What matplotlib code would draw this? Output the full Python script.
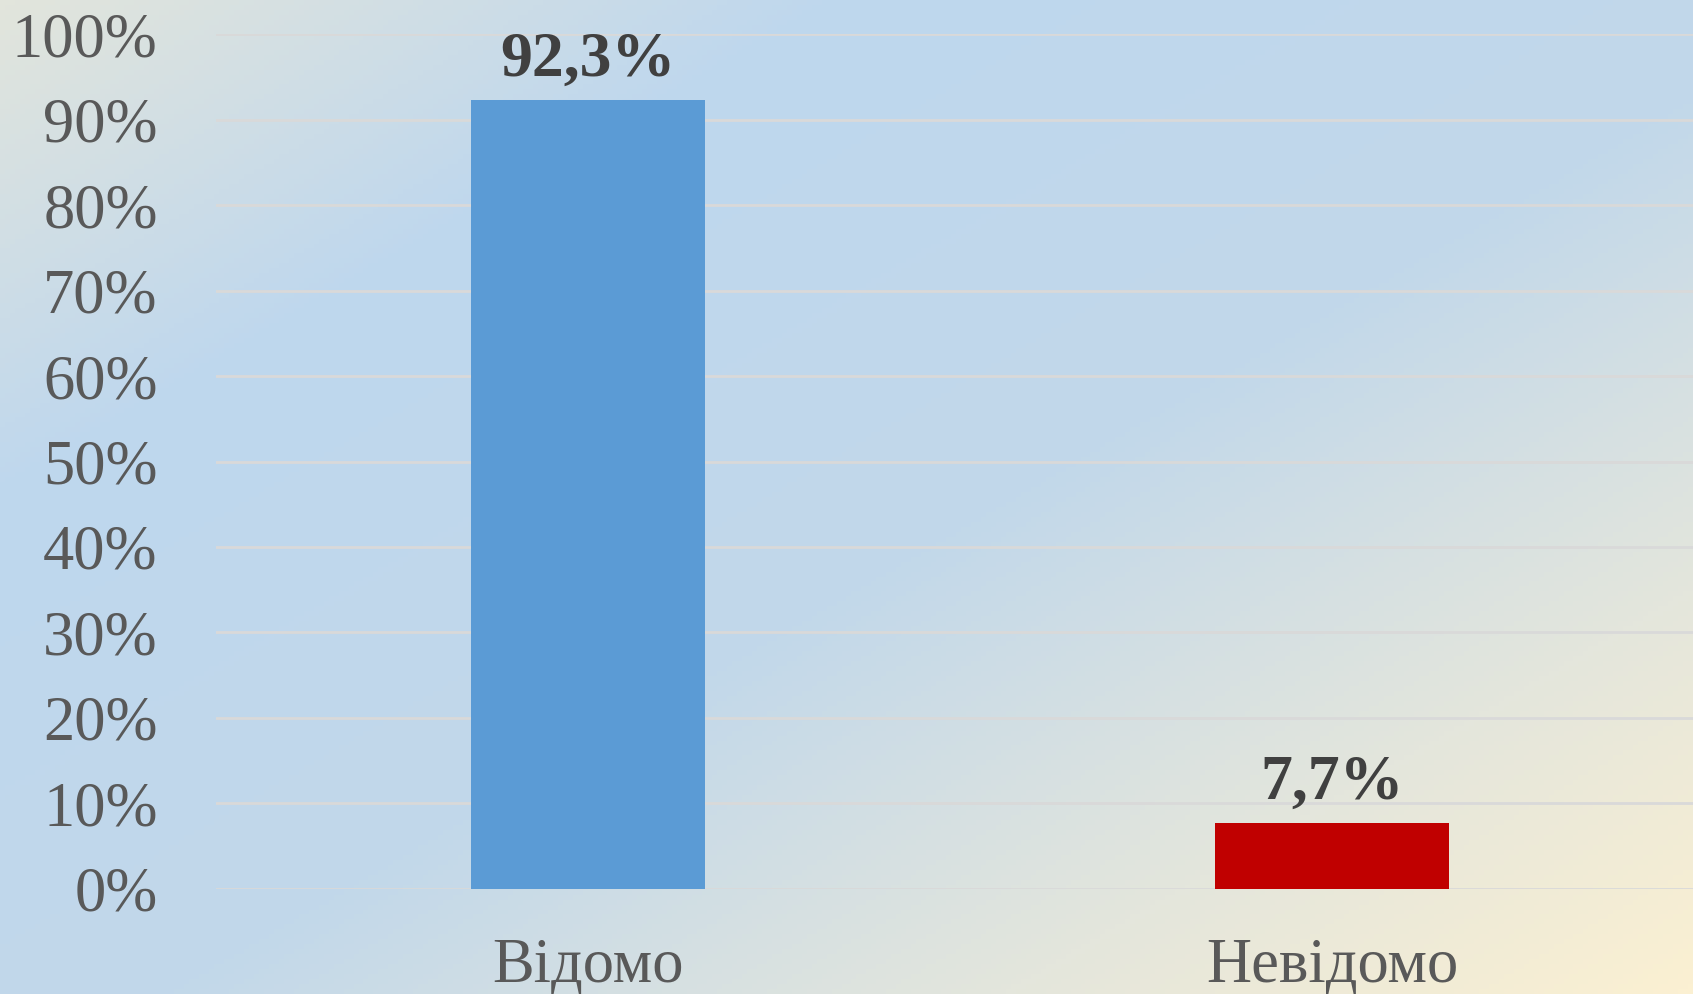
import numpy as np
import matplotlib.pyplot as plt
from matplotlib.colors import LinearSegmentedColormap

categories = ['Відомо', 'Невідомо']
values = [92.3, 7.7]
labels = ['92,3%', '7,7%']
colors = ['#5b9bd5', '#c00000']
yticks = list(range(0, 101, 10))

plt.rcParams['font.family'] = ['Liberation Serif', 'DejaVu Serif']

fig = plt.figure(figsize=(16.93, 9.94), dpi=100)

# diagonal gradient background
bg = fig.add_axes([0, 0, 1, 1], zorder=0)
h, w = 200, 340
yy, xx = np.mgrid[0:h, 0:w]
t = (xx / (w - 1) + yy / (h - 1)) / 2
cmap = LinearSegmentedColormap.from_list('bg', [
    (0.0, '#e2e5dc'), (0.25, '#bed7ee'), (0.55, '#c2d8ea'),
    (0.8, '#e4e6dc'), (1.0, '#fbf0d2')])
bg.imshow(t, cmap=cmap, aspect='auto', extent=[0, 1, 0, 1], origin='upper')
bg.axis('off')

ax = fig.add_axes([216 / 1693, 1 - 888.6 / 994, 1 - 216 / 1693, (888.6 - 34.5) / 994], zorder=1)
ax.patch.set_alpha(0)
x = np.arange(len(categories))
ax.bar(x, values, width=0.315, color=colors, zorder=3)
for xi, v, lab in zip(x, values, labels):
    ax.text(xi, v + 1.2, lab, ha='center', va='bottom', fontsize=46,
            fontweight='bold', color='#404040')

ax.set_xlim(-0.5, 1.485)
ax.set_ylim(0, 100)
ax.set_yticks(yticks)
ax.set_yticklabels([f'{v}%' for v in yticks])
ax.set_xticks(x)
ax.set_xticklabels(categories)
ax.tick_params(axis='both', length=0, labelsize=45, labelcolor='#595959')
ax.tick_params(axis='y', pad=42)
ax.tick_params(axis='x', pad=35)
ax.grid(axis='y', color='#d9d9d9', linewidth=2, zorder=0)
for s in ax.spines.values():
    s.set_visible(False)

fig.savefig('out.png', dpi=100)
